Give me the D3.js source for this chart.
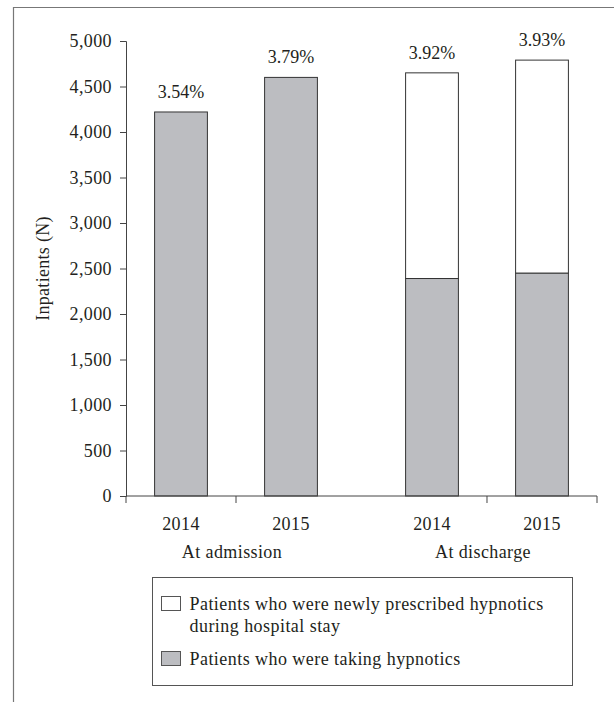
<!DOCTYPE html>
<html>
<head>
<meta charset="utf-8">
<script src="https://cdn.jsdelivr.net/npm/d3@7"></script>
<style>
  body { margin: 0; background: #fff; }
  svg text { font-family: "Liberation Serif", "DejaVu Serif", serif; fill: #231f20; }
</style>
</head>
<body>
<svg id="chart" width="614" height="702"></svg>
<script>
// ============================================================
// DATA
// ============================================================
const groups = ['At admission', 'At discharge'];
const years = ['2014', '2015'];
// bars in order: admission 2014, admission 2015, discharge 2014, discharge 2015
const takingVals = [4220, 4600, 2390, 2450];
const newlyVals = [0, 0, 2260, 2340];
const pctLabels = ['3.54%', '3.79%', '3.92%', '3.93%'];
const yTicks = [0, 500, 1000, 1500, 2000, 2500, 3000, 3500, 4000, 4500, 5000];
const legendItems = [
  { lines: ['Patients who were newly prescribed hypnotics', 'during hospital stay'], key: 'newly' },
  { lines: ['Patients who were taking hypnotics'], key: 'taking' }
];

const GRAY = '#bcbdc1';
const INK = '#231f20';
const FONT = '"Liberation Serif", "DejaVu Serif", serif';
const FS = 18;
const fill = { taking: GRAY, newly: '#fff' };

const bars = [];
groups.forEach((g, gi) => years.forEach((yr, yi) => {
  const i = gi * years.length + yi;
  bars.push({ group: g, year: yr, taking: takingVals[i], newly: newlyVals[i], pct: pctLabels[i] });
}));

// ============================================================
// SCALES
// ============================================================
const svg = d3.select('#chart');

// outer frame (cut off at right and bottom like the source)
svg.append('path')
  .attr('d', 'M13.5,702 V7.5 H614')
  .attr('fill', 'none').attr('stroke', '#777').attr('stroke-width', 1.2);

const x0 = 126, x1 = 597, yBase = 496, yTop = 41;

const xGroup = d3.scaleBand().domain(groups).range([x0, x1]).paddingInner(0.1235);
const xYear = d3.scaleBand().domain(years).range([0, xGroup.bandwidth()])
  .paddingInner(0.52).paddingOuter(0.26);
const y = d3.scaleLinear().domain([0, 5000]).range([yBase, yTop]);

const barX = d => xGroup(d.group) + xYear(d.year);
const barCx = d => barX(d) + xYear.bandwidth() / 2;

// ============================================================
// AXES
// ============================================================
const yAxis = svg.append('g')
  .attr('transform', `translate(${x0},0)`)
  .call(d3.axisLeft(y).tickValues(yTicks).tickSize(6).tickPadding(8)
    .tickFormat(d3.format(',')));
yAxis.attr('font-family', FONT).attr('font-size', FS);
yAxis.select('.domain').attr('stroke', '#444');
yAxis.selectAll('.tick line').attr('stroke', '#444');
yAxis.selectAll('.tick text').attr('fill', INK).attr('letter-spacing', 0.4);

svg.append('text')
  .attr('transform', `translate(49,${(yBase + yTop) / 2}) rotate(-90)`)
  .attr('text-anchor', 'middle')
  .attr('font-size', FS).attr('letter-spacing', 0.3)
  .text('Inpatients (N)');

// ============================================================
// BARS
// ============================================================
const barG = svg.append('g');
barG.selectAll('rect.taking').data(bars).join('rect')
  .attr('class', 'taking')
  .attr('x', barX).attr('width', xYear.bandwidth())
  .attr('y', d => y(d.taking)).attr('height', d => yBase - y(d.taking))
  .attr('fill', fill.taking).attr('stroke', '#333').attr('stroke-width', 1);

barG.selectAll('rect.newly').data(bars.filter(d => d.newly > 0)).join('rect')
  .attr('class', 'newly')
  .attr('x', barX).attr('width', xYear.bandwidth())
  .attr('y', d => y(d.taking + d.newly)).attr('height', d => y(d.taking) - y(d.taking + d.newly))
  .attr('fill', fill.newly).attr('stroke', '#333').attr('stroke-width', 1);

barG.selectAll('text.pct').data(bars).join('text')
  .attr('class', 'pct')
  .attr('x', barCx)
  .attr('y', d => y(d.taking + d.newly) - 14)
  .attr('text-anchor', 'middle')
  .attr('font-size', FS)
  .text(d => d.pct);

// x baseline with the odd tick placement of the source
svg.append('line')
  .attr('x1', x0).attr('x2', x1).attr('y1', yBase).attr('y2', yBase)
  .attr('stroke', '#444');
const xTickPos = [
  x0,
  xGroup(groups[0]) + xYear.step(),
  xGroup(groups[1]) + xYear.step(),
  x1
];
svg.selectAll('line.xtick').data(xTickPos).join('line')
  .attr('class', 'xtick')
  .attr('x1', d => d).attr('x2', d => d)
  .attr('y1', yBase).attr('y2', yBase + 7)
  .attr('stroke', '#444');

svg.selectAll('text.year').data(bars).join('text')
  .attr('class', 'year')
  .attr('x', barCx).attr('y', 530)
  .attr('text-anchor', 'middle').attr('font-size', FS).attr('letter-spacing', 0.4)
  .text(d => d.year);

svg.selectAll('text.group').data(groups).join('text')
  .attr('class', 'group')
  .attr('x', g => xGroup(g) + xGroup.bandwidth() / 2 - 4).attr('y', 558)
  .attr('text-anchor', 'middle').attr('font-size', FS).attr('letter-spacing', 0.4)
  .text(g => g);

// ============================================================
// LEGEND
// ============================================================
const legend = svg.append('g').attr('transform', 'translate(152.5,577.5)');
legend.append('rect')
  .attr('width', 420).attr('height', 108)
  .attr('fill', '#fff').attr('stroke', '#555').attr('stroke-width', 1);

let ly = 19;
legendItems.forEach(item => {
  legend.append('rect')
    .attr('x', 9).attr('y', ly).attr('width', 19).attr('height', 14)
    .attr('fill', fill[item.key]).attr('stroke', '#555').attr('stroke-width', 1);
  item.lines.forEach((ln, li) => {
    legend.append('text')
      .attr('x', 37).attr('y', ly + 13 + li * 22)
      .attr('font-size', FS).attr('letter-spacing', 0.45)
      .text(ln);
  });
  ly += item.lines.length * 22 + 11;
});
</script>
</body>
</html>
